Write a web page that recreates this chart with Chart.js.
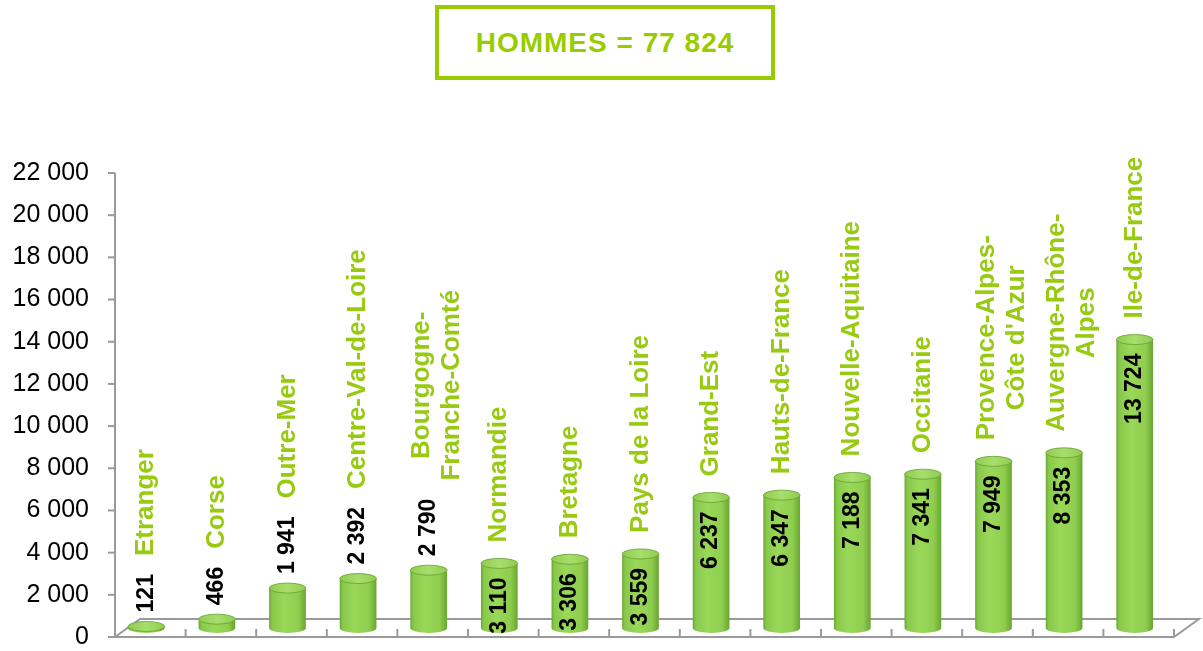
<!DOCTYPE html>
<html>
<head>
<meta charset="utf-8">
<script src="https://cdn.jsdelivr.net/npm/chart.js@4.4.0/dist/chart.umd.min.js"></script>
<style>
  html, body { margin: 0; padding: 0; background: #ffffff; }
  #wrap { position: relative; width: 1203px; height: 651px; overflow: hidden; }
  #chart { position: absolute; left: 0; top: 0; }
  #titlebox {
    position: absolute; left: 435px; top: 5px; width: 340px; height: 75px;
    box-sizing: border-box; border: 4px solid #99cc00; background: #fff;
    display: flex; align-items: center; justify-content: center;
    font-family: 'Liberation Sans', Arial, sans-serif; font-weight: bold;
    font-size: 28px; letter-spacing: 1px; color: #99cc00;
  }
</style>
</head>
<body>
<div id="wrap">
  <canvas id="chart" width="1203" height="651"></canvas>
  <div id="titlebox">HOMMES = 77 824</div>
</div>
<script>
// ---- data ----
const categories = [
  'Etranger', 'Corse', 'Outre-Mer', 'Centre-Val-de-Loire',
  ['Bourgogne-', 'Franche-Comté'], 'Normandie', 'Bretagne', 'Pays de la Loire',
  'Grand-Est', 'Hauts-de-France', 'Nouvelle-Aquitaine', 'Occitanie',
  ['Provence-Alpes-', "Côte d'Azur"], ['Auvergne-Rhône-', 'Alpes'], 'Ile-de-France'
];
const values = [121, 466, 1941, 2392, 2790, 3110, 3306, 3559, 6237, 6347, 7188, 7341, 7949, 8353, 13724];
const yTickValues = [0, 2000, 4000, 6000, 8000, 10000, 12000, 14000, 16000, 18000, 20000, 22000];
const yMin = 0;
const yMax = 22000;
const insideThreshold = 3000;

function fmt(v) { return String(v).replace(/\B(?=(\d{3})+(?!\d))/g, ' '); }

const FONT = "'Liberation Sans', Arial, sans-serif";
const GREEN_TXT = '#97ca10';
const AXIS = '#9a9a9a';
const DEPTH_Y = -8;   // visual lift of bars onto the 3D floor

const floorPlugin = {
  id: 'floor3d',
  beforeDatasetsDraw(chart) {
    const { ctx, chartArea, scales } = chart;
    const y0 = scales.y.getPixelForValue(0);
    const L = chartArea.left, R = chartArea.right;
    const n = categories.length;
    const w = (R - L) / n;
    ctx.save();
    ctx.strokeStyle = AXIS;
    ctx.lineWidth = 2;
    const ax = L + 4;
    ctx.beginPath();
    ctx.moveTo(ax, scales.y.getPixelForValue(yMax));
    ctx.lineTo(ax, y0);
    ctx.stroke();
    yTickValues.forEach(v => {
      const py = scales.y.getPixelForValue(v);
      ctx.beginPath(); ctx.moveTo(ax - 7, py); ctx.lineTo(ax, py); ctx.stroke();
    });
    ctx.beginPath();
    ctx.moveTo(L + 4, y0);
    ctx.lineTo(R + 4, y0);
    ctx.lineTo(R + 29, y0 - 18);
    ctx.lineTo(L + 29, y0 - 18);
    ctx.closePath();
    ctx.stroke();
    for (let k = 1; k <= n; k++) {
      const px = L + 4 + k * w;
      ctx.beginPath(); ctx.moveTo(px, y0); ctx.lineTo(px, y0 - 8); ctx.stroke();
    }
    ctx.restore();
  }
};

function drawCylinder(ctx, x, top, bottom, w) {
  const rx = w / 2, ry = 5;
  const g = ctx.createLinearGradient(x - rx, 0, x + rx, 0);
  g.addColorStop(0, '#6aa832');
  g.addColorStop(0.08, '#88c84a');
  g.addColorStop(0.4, '#9ad85a');
  g.addColorStop(0.8, '#8ecd4e');
  g.addColorStop(1, '#69a531');
  ctx.beginPath();
  ctx.moveTo(x - rx, top);
  ctx.lineTo(x - rx, bottom);
  ctx.ellipse(x, bottom, rx, ry, 0, Math.PI, 0, true);
  ctx.lineTo(x + rx, top);
  ctx.closePath();
  ctx.fillStyle = g;
  ctx.fill();
  const gt = ctx.createLinearGradient(x - rx, 0, x + rx, 0);
  gt.addColorStop(0, '#90cc50');
  gt.addColorStop(0.5, '#a8de6c');
  gt.addColorStop(1, '#90cc50');
  ctx.beginPath();
  ctx.ellipse(x, top, rx, ry, 0, 0, Math.PI * 2);
  ctx.fillStyle = gt;
  ctx.fill();
  ctx.strokeStyle = 'rgba(100,160,50,0.8)';
  ctx.lineWidth = 1;
  ctx.stroke();
}

function rotText(ctx, text, x, y, align) {
  ctx.save();
  ctx.translate(x, y);
  ctx.rotate(-Math.PI / 2);
  ctx.textAlign = align;
  ctx.textBaseline = 'middle';
  ctx.fillText(text, 0, 0);
  ctx.restore();
}

const cylPlugin = {
  id: 'cylinders',
  afterDatasetsDraw(chart) {
    const { ctx } = chart;
    const meta = chart.getDatasetMeta(0);
    meta.data.forEach((bar, i) => {
      const top = bar.y + DEPTH_Y;
      const bottom = bar.base + DEPTH_Y - 1;
      drawCylinder(ctx, bar.x, top, bottom, bar.width);

      const v = values[i];
      const vtxt = fmt(v);
      ctx.font = 'bold 23px ' + FONT;
      ctx.fillStyle = '#000';
      let catStart;
      if (v >= insideThreshold) {
        rotText(ctx, vtxt, bar.x, top + 14, 'right');
        catStart = top - 21;
      } else {
        const vw = ctx.measureText(vtxt).width;
        rotText(ctx, vtxt, bar.x, top - 14, 'left');
        catStart = top - 14 - vw - 18;
      }
      ctx.font = 'bold 26px ' + FONT;
      ctx.fillStyle = GREEN_TXT;
      const c = categories[i];
      if (Array.isArray(c)) {
        const maxW = Math.max(...c.map(s => ctx.measureText(s).width));
        const mid = catStart - maxW / 2;
        const lh = 30;
        c.forEach((s, j) => {
          const off = (j - (c.length - 1) / 2) * lh + 8;
          rotText(ctx, s, bar.x + off, mid, 'center');
        });
      } else {
        rotText(ctx, c, bar.x, catStart, 'left');
      }
    });
  }
};

new Chart(document.getElementById('chart'), {
  type: 'bar',
  data: {
    labels: categories,
    datasets: [{
      data: values,
      backgroundColor: 'rgba(0,0,0,0)',
      borderWidth: 0,
      categoryPercentage: 1,
      barPercentage: 0.52
    }]
  },
  options: {
    responsive: false,
    animation: false,
    devicePixelRatio: 1,
    layout: { padding: { left: 0, right: 33, top: 173, bottom: 14 } },
    plugins: { legend: { display: false }, tooltip: { enabled: false }, title: { display: false } },
    scales: {
      x: { display: false },
      y: {
        min: yMin, max: yMax,
        afterBuildTicks(scale) { scale.ticks = yTickValues.map(v => ({ value: v })); },
        afterFit(scale) { scale.width = 111; scale.paddingTop = 0; scale.paddingBottom = 0; },
        grid: { display: false },
        border: { display: false },
        ticks: {
          padding: 14,
          color: '#000',
          font: { family: FONT, size: 25 },
          callback: v => fmt(v)
        }
      }
    }
  },
  plugins: [floorPlugin, cylPlugin]
});
</script>
</body>
</html>
